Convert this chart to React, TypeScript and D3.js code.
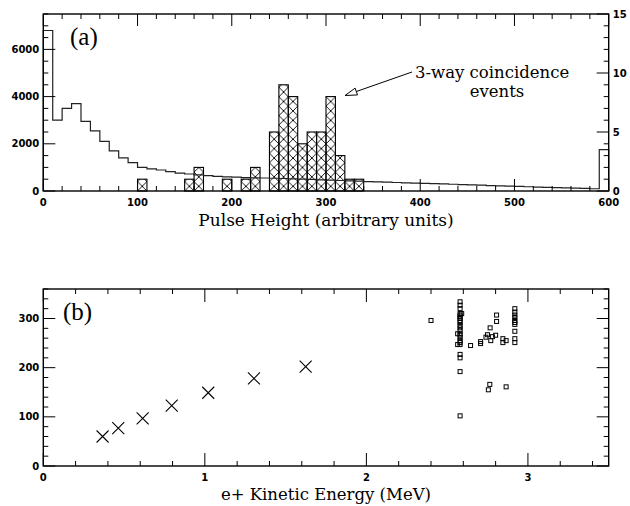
import * as d3 from 'd3';

// ---- panel (a): pulse height spectra ----
const binWidth = 10;
const pulseCounts = [
  6800, 3000, 3500, 3700, 2950, 2550, 2100, 1700, 1400, 1200,
  1000, 940, 890, 820, 760, 720, 680, 650, 620, 600,
  590, 570, 560, 550, 540, 530, 515, 500, 490, 475,
  460, 445, 430, 415, 400, 390, 375, 360, 345, 330,
  320, 310, 300, 285, 270, 260, 245, 230, 215, 205,
  195, 180, 165, 155, 145, 130, 120, 110, 95, 1750,
];
const coincStart = [100, 150, 160, 190, 210, 220, 240, 250, 260, 270, 280, 290, 300, 310, 320, 330];
const coincCounts = [1, 1, 2, 1, 1, 2, 5, 9, 8, 4, 5, 5, 8, 3, 1, 1];

const phTicks = [0, 100, 200, 300, 400, 500, 600];
const countTicks = [0, 2000, 4000, 6000];
const coincTicks = [0, 5, 10, 15];

// ---- panel (b): calibration and events ----
const calibEnergy = [0.367, 0.464, 0.615, 0.795, 1.021, 1.304, 1.624];
const calibPulse = [60, 77, 97, 123, 149, 178, 202];

const eventEnergy = [
  2.40,
  2.58, 2.58, 2.58, 2.58, 2.58, 2.58, 2.58, 2.58, 2.58, 2.58, 2.58,
  2.58, 2.58, 2.58, 2.58, 2.58, 2.58, 2.58, 2.58, 2.58, 2.58, 2.58,
  2.565, 2.565, 2.59,
  2.645, 2.707, 2.707,
  2.766, 2.806, 2.806, 2.75, 2.74, 2.77, 2.80, 2.78,
  2.845, 2.845, 2.865,
  2.764, 2.755, 2.865,
  2.919, 2.919, 2.919, 2.919, 2.919, 2.919, 2.919, 2.919, 2.919, 2.919,
];
const eventPulse = [
  296,
  334, 327, 320, 310, 307, 303, 300, 296, 292, 286, 281,
  276, 269, 266, 261, 255, 251, 247, 227, 220, 192, 102,
  269, 247, 310,
  245, 253, 249,
  281, 307, 294, 267, 262, 255, 266, 263,
  259, 251, 255,
  166, 155, 161,
  320, 313, 307, 302, 296, 292, 288, 274, 259, 251,
];

const energyTicks = [0, 1, 2, 3];
const pulseTicks = [0, 100, 200, 300];

const W = 630;
const H = 506;
const pa = { l: 43.3, r: 608.7, t: 14, b: 191 };
const pb = { l: 43.3, r: 608.7, t: 289, b: 466 };

const tickFont = "'DejaVu Sans', sans-serif";
const serif = "'DejaVu Serif', serif";
const times = "'Liberation Serif', 'Times New Roman', serif";

export default function App() {
  // scales, panel a
  const xa = d3.scaleLinear().domain([0, 600]).range([pa.l, pa.r]);
  const ya = d3.scaleLinear().domain([0, 7500]).range([pa.b, pa.t]);
  const ya2 = d3.scaleLinear().domain([0, 15]).range([pa.b, pa.t]);

  // scales, panel b
  const xb = d3.scaleLinear().domain([0, 3.5]).range([pb.l, pb.r]);
  const yb = d3.scaleLinear().domain([0, 360]).range([pb.b, pb.t]);

  // step outline of the singles spectrum
  const stepPts: [number, number][] = [[xa(0), ya(0)]];
  pulseCounts.forEach((v, i) => {
    stepPts.push([xa(i * binWidth), ya(v)]);
    stepPts.push([xa((i + 1) * binWidth), ya(v)]);
  });
  stepPts.push([xa(pulseCounts.length * binWidth), ya(0)]);
  const stepPath = d3.line()(stepPts) || '';

  const cell = xa(binWidth) - xa(0);
  const MAJ = 12;
  const MIN = 5;

  const xaMinor = d3.range(0, 600.01, 20).filter((v) => v % 100 !== 0);
  const yaMinor = d3.range(0, 7500.01, 500).filter((v) => v % 2000 !== 0);
  const ya2Minor = d3.range(0, 15.01, 1).filter((v) => v % 5 !== 0);
  const xbMinor = d3.range(0, 3.501, 0.2).filter((v) => Math.abs(v - Math.round(v)) > 1e-6);
  const ybMinor = d3.range(0, 360.01, 20).filter((v) => v % 100 !== 0);

  const arrowTip: [number, number] = [345, 95.5];
  const arrowTail: [number, number] = [412, 72];
  const ang = Math.atan2(arrowTail[1] - arrowTip[1], arrowTail[0] - arrowTip[0]);
  const hl = 12;
  const hw = 3.6;
  const bx = arrowTip[0] + hl * Math.cos(ang);
  const by = arrowTip[1] + hl * Math.sin(ang);
  const head = [
    arrowTip,
    [bx - hw * Math.sin(ang), by + hw * Math.cos(ang)],
    [bx + hw * Math.sin(ang), by - hw * Math.cos(ang)],
  ];

  return (
    <svg
      width={W}
      height={H}
      style={{ position: 'absolute', left: 0, top: 0, background: '#fff' }}
    >
      <defs>
        <pattern
          id="xhatch"
          patternUnits="userSpaceOnUse"
          x={pa.l}
          y={pa.b}
          width={cell}
          height={cell}
        >
          <path
            d={`M0,0L${cell},${cell}M${cell},0L0,${cell}`}
            stroke="#000"
            strokeWidth={0.9}
            fill="none"
          />
        </pattern>
      </defs>
      <rect width={W} height={H} fill="#fff" />

      {/* ---------- panel (a) ---------- */}
      <g>
        {coincStart.map((s, i) => (
          <rect
            key={'c' + i}
            x={xa(s)}
            y={ya2(coincCounts[i])}
            width={xa(s + binWidth) - xa(s)}
            height={ya2(0) - ya2(coincCounts[i])}
            fill="url(#xhatch)"
            stroke="#000"
            strokeWidth={1.1}
          />
        ))}
        <path d={stepPath} fill="none" stroke="#222" strokeWidth={1.2} />

        <rect
          x={pa.l}
          y={pa.t}
          width={pa.r - pa.l}
          height={pa.b - pa.t}
          fill="none"
          stroke="#000"
          strokeWidth={1.4}
        />
        {/* x ticks, bottom and top */}
        {phTicks.map((t) => (
          <g key={'xa' + t}>
            <line x1={xa(t)} x2={xa(t)} y1={pa.b} y2={pa.b - MAJ} stroke="#000" />
            <line x1={xa(t)} x2={xa(t)} y1={pa.t} y2={pa.t + MAJ} stroke="#000" />
            <text
              x={xa(t)}
              y={pa.b + 15}
              textAnchor="middle"
              fontFamily={tickFont}
              fontWeight="bold"
              fontSize={10}
            >
              {t}
            </text>
          </g>
        ))}
        {xaMinor.map((t) => (
          <g key={'xam' + t}>
            <line x1={xa(t)} x2={xa(t)} y1={pa.b} y2={pa.b - MIN} stroke="#000" />
            <line x1={xa(t)} x2={xa(t)} y1={pa.t} y2={pa.t + MIN} stroke="#000" />
          </g>
        ))}
        {/* left y ticks */}
        {countTicks.map((t) => (
          <g key={'ya' + t}>
            <line x1={pa.l} x2={pa.l + MAJ} y1={ya(t)} y2={ya(t)} stroke="#000" />
            <text
              x={pa.l - 4}
              y={ya(t) + 3.6}
              textAnchor="end"
              fontFamily={tickFont}
              fontWeight="bold"
              fontSize={10}
            >
              {t}
            </text>
          </g>
        ))}
        {yaMinor.map((t) => (
          <line key={'yam' + t} x1={pa.l} x2={pa.l + MIN} y1={ya(t)} y2={ya(t)} stroke="#000" />
        ))}
        {/* right y ticks */}
        {coincTicks.map((t) => (
          <g key={'yr' + t}>
            <line x1={pa.r} x2={pa.r - MAJ} y1={ya2(t)} y2={ya2(t)} stroke="#000" />
            <text
              x={pa.r + 4}
              y={ya2(t) + 3.6}
              textAnchor="start"
              fontFamily={tickFont}
              fontWeight="bold"
              fontSize={10}
            >
              {t}
            </text>
          </g>
        ))}
        {ya2Minor.map((t) => (
          <line key={'yrm' + t} x1={pa.r} x2={pa.r - MIN} y1={ya2(t)} y2={ya2(t)} stroke="#000" />
        ))}

        <text x={70} y={45} fontFamily={times} fontSize={25}>
          (a)
        </text>
        <text
          x={(pa.l + pa.r) / 2}
          y={226}
          textAnchor="middle"
          fontFamily={serif}
          fontSize={17}
        >
          Pulse Height (arbitrary units)
        </text>

        <line
          x1={arrowTail[0]}
          y1={arrowTail[1]}
          x2={bx}
          y2={by}
          stroke="#000"
          strokeWidth={1}
        />
        <polygon
          points={head.map((p) => p.join(',')).join(' ')}
          fill="#fff"
          stroke="#000"
          strokeWidth={1}
        />
        <text x={415} y={78} fontFamily={serif} fontSize={16.5}>
          3-way coincidence
        </text>
        <text x={497} y={97} textAnchor="middle" fontFamily={serif} fontSize={16.5}>
          events
        </text>
      </g>

      {/* ---------- panel (b) ---------- */}
      <g>
        <rect
          x={pb.l}
          y={pb.t}
          width={pb.r - pb.l}
          height={pb.b - pb.t}
          fill="none"
          stroke="#000"
          strokeWidth={1.4}
        />
        {energyTicks.map((t) => (
          <g key={'xb' + t}>
            <line x1={xb(t)} x2={xb(t)} y1={pb.b} y2={pb.b - MAJ - 1} stroke="#000" />
            <line x1={xb(t)} x2={xb(t)} y1={pb.t} y2={pb.t + MAJ + 1} stroke="#000" />
            <text
              x={xb(t)}
              y={pb.b + 15}
              textAnchor="middle"
              fontFamily={tickFont}
              fontWeight="bold"
              fontSize={10}
            >
              {t}
            </text>
          </g>
        ))}
        {xbMinor.map((t) => (
          <g key={'xbm' + t.toFixed(1)}>
            <line x1={xb(t)} x2={xb(t)} y1={pb.b} y2={pb.b - MIN} stroke="#000" />
            <line x1={xb(t)} x2={xb(t)} y1={pb.t} y2={pb.t + MIN} stroke="#000" />
          </g>
        ))}
        {pulseTicks.map((t) => (
          <g key={'yb' + t}>
            <line x1={pb.l} x2={pb.l + MAJ} y1={yb(t)} y2={yb(t)} stroke="#000" />
            <line x1={pb.r} x2={pb.r - MAJ} y1={yb(t)} y2={yb(t)} stroke="#000" />
            <text
              x={pb.l - 4}
              y={yb(t) + 3.6}
              textAnchor="end"
              fontFamily={tickFont}
              fontWeight="bold"
              fontSize={10}
            >
              {t}
            </text>
          </g>
        ))}
        {ybMinor.map((t) => (
          <g key={'ybm' + t}>
            <line x1={pb.l} x2={pb.l + MIN} y1={yb(t)} y2={yb(t)} stroke="#000" />
            <line x1={pb.r} x2={pb.r - MIN} y1={yb(t)} y2={yb(t)} stroke="#000" />
          </g>
        ))}

        {calibEnergy.map((e, i) => {
          const cx = xb(e);
          const cy = yb(calibPulse[i]);
          const s = 6;
          return (
            <path
              key={'x' + i}
              d={`M${cx - s},${cy - s}L${cx + s},${cy + s}M${cx + s},${cy - s}L${cx - s},${cy + s}`}
              stroke="#000"
              strokeWidth={1.1}
              fill="none"
            />
          );
        })}
        {eventEnergy.map((e, i) => (
          <rect
            key={'s' + i}
            x={xb(e) - 2}
            y={yb(eventPulse[i]) - 2}
            width={4}
            height={4}
            fill="none"
            stroke="#000"
            strokeWidth={1}
          />
        ))}

        <text x={63} y={320} fontFamily={times} fontSize={25}>
          (b)
        </text>
        <text
          x={(pb.l + pb.r) / 2}
          y={500}
          textAnchor="middle"
          fontFamily={serif}
          fontSize={16.5}
        >
          e+ Kinetic Energy (MeV)
        </text>
      </g>
    </svg>
  );
}
